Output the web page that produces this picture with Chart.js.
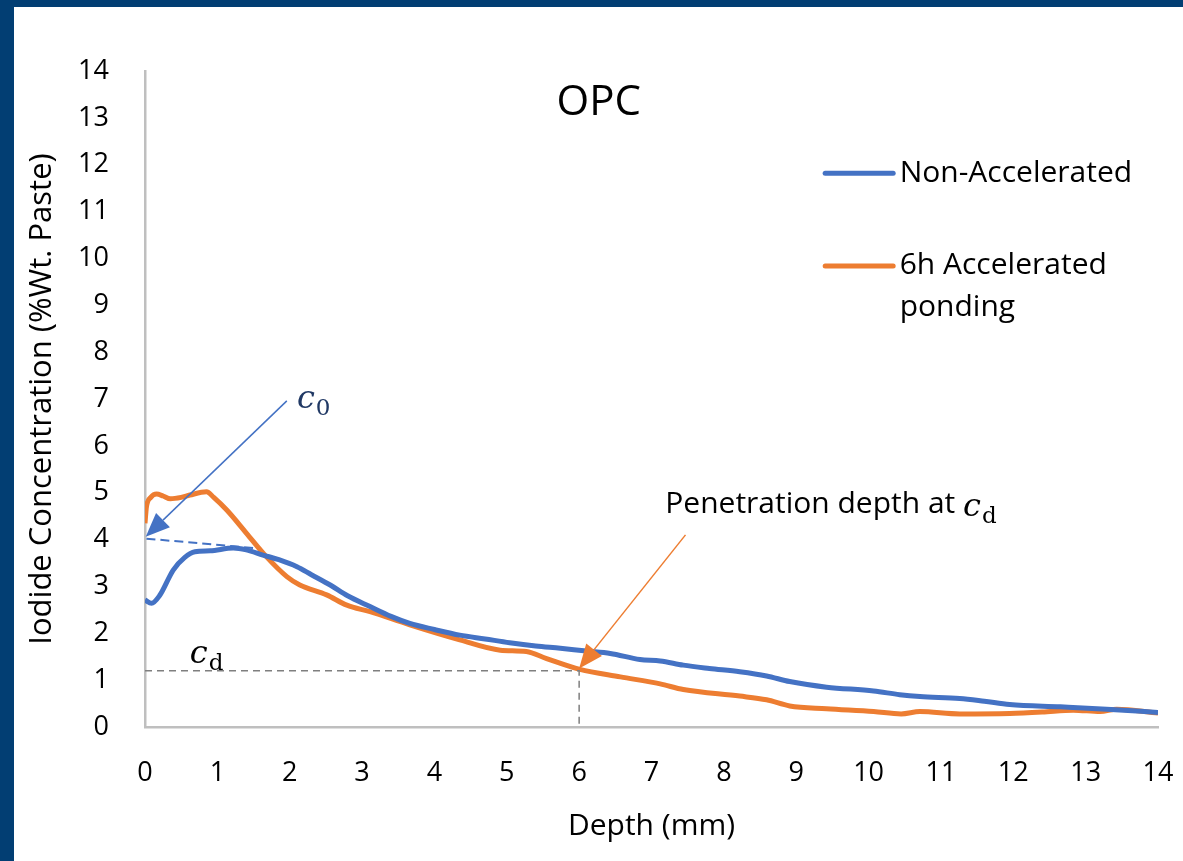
<!DOCTYPE html>
<html>
<head>
<meta charset="utf-8">
<title>OPC - Iodide Concentration</title>
<script src="https://cdn.jsdelivr.net/npm/chart.js@4"></script>
<style>
    html, body { margin: 0; padding: 0; }
    body { background: #023e73; width: 1183px; height: 861px; overflow: hidden; position: relative; }
    .chart-container { position: absolute; left: 14px; top: 7px; width: 1169px; height: 854px; background: #fff; }
</style>
</head>
<body>
<div class="chart-container">
    <canvas id="iodideChart"></canvas>
</div>
<script>
// values
const seriesLabels = ['Non-Accelerated', '6h Accelerated ponding'];

const depthNonAcc = [0, 0.09, 0.2, 0.39, 0.55, 0.69, 0.9, 1.22, 1.4, 1.63, 1.85, 2.1, 2.3, 2.56, 2.8, 3.11,
    3.4, 3.66, 4.0, 4.35, 4.7, 5.04, 5.4, 5.74, 6.1, 6.43, 6.84, 7.12, 7.44, 7.8, 8.22, 8.59, 8.91,
    9.42, 10.07, 10.43, 10.71, 11.26, 11.6, 11.95, 12.65, 13.29, 14];
const concNonAcc = [2.71, 2.64, 2.8, 3.35, 3.62, 3.74, 3.76, 3.82, 3.78, 3.67, 3.57, 3.42, 3.25, 3.03, 2.8, 2.57,
    2.36, 2.21, 2.08, 1.96, 1.88, 1.8, 1.73, 1.68, 1.62, 1.57, 1.44, 1.41, 1.32, 1.25, 1.18, 1.09, 0.97,
    0.85, 0.77, 0.69, 0.65, 0.61, 0.55, 0.48, 0.43, 0.38, 0.31];

const depthAcc = [0, 0.02, 0.08, 0.16, 0.25, 0.35, 0.5, 0.62, 0.85, 0.95, 1.13, 1.4, 1.68, 1.96, 2.14, 2.51,
    2.79, 3.11, 3.66, 4.35, 4.91, 5.27, 5.55, 6.01, 6.57, 7.12, 7.44, 8.22, 8.59, 8.91, 9.42, 10.07,
    10.45, 10.71, 11.26, 11.95, 12.4, 12.83, 13.2, 13.43, 14];
const concAcc = [4.35, 4.7, 4.9, 4.97, 4.93, 4.87, 4.9, 4.95, 5.02, 4.9, 4.63, 4.14, 3.63, 3.21, 3.03, 2.82,
    2.6, 2.46, 2.18, 1.86, 1.64, 1.61, 1.46, 1.23, 1.07, 0.92, 0.8, 0.66, 0.58, 0.45, 0.39, 0.33,
    0.28, 0.33, 0.28, 0.29, 0.32, 0.36, 0.33, 0.38, 0.3];

const axisMin = 0;
const axisMax = 14;

// annotation anchors (depth, concentration)
const c0Point = [0.01, 4.06];
const c0Line = [[0.02, 4.02], [1.5, 3.82]];
const cdPoint = [6.0, 1.2];

const BLUE = '#4472C4';
const ORANGE = '#ED7D31';
const FONT = '"Open Sans", sans-serif';

const toPoints = (xs, ys) => xs.map((v, i) => ({ x: v, y: ys[i] }));

function drawArrow(ctx, x1, y1, x2, y2, color) {
    const angle = Math.atan2(y2 - y1, x2 - x1);
    const headLen = 24;
    const headW = 10;
    const bx = x2 - Math.cos(angle) * headLen;
    const by = y2 - Math.sin(angle) * headLen;
    ctx.save();
    ctx.strokeStyle = color;
    ctx.fillStyle = color;
    ctx.lineWidth = 1.5;
    ctx.beginPath();
    ctx.moveTo(x1, y1);
    ctx.lineTo(bx, by);
    ctx.stroke();
    ctx.beginPath();
    ctx.moveTo(x2, y2);
    ctx.lineTo(bx + Math.sin(angle) * headW, by - Math.cos(angle) * headW);
    ctx.lineTo(bx - Math.sin(angle) * headW, by + Math.cos(angle) * headW);
    ctx.closePath();
    ctx.fill();
    ctx.restore();
}

// c + subscript, drawn in a serif italic like the equation text in the original
function drawSymbol(ctx, x, y, sub, size, color) {
    ctx.save();
    ctx.fillStyle = color;
    ctx.textBaseline = 'alphabetic';
    ctx.textAlign = 'left';
    ctx.font = `italic ${size}px "DejaVu Serif", serif`;
    ctx.fillText('c', x, y);
    const w = ctx.measureText('c').width;
    ctx.font = `${Math.round(size * 0.72)}px "DejaVu Serif", serif`;
    ctx.fillText(sub, x + w + 1, y + size * 0.22);
    ctx.restore();
}

const annotationPlugin = {
    id: 'annotations',
    afterDatasetsDraw(chart) {
        const { ctx, scales: { x, y } } = chart;
        const px = v => x.getPixelForValue(v);
        const py = v => y.getPixelForValue(v);

        // dashed extrapolation to c0
        ctx.save();
        ctx.strokeStyle = BLUE;
        ctx.lineWidth = 2;
        ctx.setLineDash([9, 5]);
        ctx.beginPath();
        ctx.moveTo(px(c0Line[0][0]), py(c0Line[0][1]));
        ctx.lineTo(px(c0Line[1][0]), py(c0Line[1][1]));
        ctx.stroke();

        // dashed guides for cd
        ctx.strokeStyle = '#7f7f7f';
        ctx.lineWidth = 1.5;
        ctx.setLineDash([7, 5]);
        ctx.beginPath();
        ctx.moveTo(px(axisMin), py(cdPoint[1]));
        ctx.lineTo(px(cdPoint[0]), py(cdPoint[1]));
        ctx.lineTo(px(cdPoint[0]), py(0));
        ctx.stroke();
        ctx.restore();

        drawArrow(ctx, px(1.96), py(6.96), px(c0Point[0]), py(c0Point[1]), BLUE);
        drawArrow(ctx, px(7.47), py(4.10), px(cdPoint[0]), py(cdPoint[1] + 0.05), ORANGE);
    },
    afterDraw(chart) {
        const { ctx, scales: { x, y } } = chart;
        const px = v => x.getPixelForValue(v);
        const py = v => y.getPixelForValue(v);

        ctx.save();
        // title inside plot
        ctx.fillStyle = '#000';
        ctx.textAlign = 'center';
        ctx.textBaseline = 'middle';
        ctx.font = `42px ${FONT}`;
        ctx.fillText('OPC', px(6.27), py(13.32));

        // legend
        ctx.lineCap = 'round';
        ctx.lineWidth = 5;
        ctx.strokeStyle = BLUE;
        ctx.beginPath();
        ctx.moveTo(px(9.4), py(11.82));
        ctx.lineTo(px(10.34), py(11.82));
        ctx.stroke();
        ctx.strokeStyle = ORANGE;
        ctx.beginPath();
        ctx.moveTo(px(9.4), py(9.84));
        ctx.lineTo(px(10.34), py(9.84));
        ctx.stroke();

        ctx.textAlign = 'left';
        ctx.font = `30px ${FONT}`;
        ctx.fillText(seriesLabels[0], px(10.43), py(11.82));
        ctx.fillText('6h Accelerated', px(10.43), py(9.84));
        ctx.fillText('ponding', px(10.43), py(8.96));

        // penetration depth label
        ctx.font = `30px ${FONT}`;
        const txt = 'Penetration depth at ';
        const tx = px(7.19);
        const ty = py(4.74);
        ctx.fillText(txt, tx, ty);
        const tw = ctx.measureText(txt).width;
        ctx.restore();

        drawSymbol(ctx, tx + tw, ty + 11, 'd', 32, '#000');
        drawSymbol(ctx, px(2.1), py(7.04) + 11, '0', 32, '#203864');
        drawSymbol(ctx, px(0.62), py(1.6) + 11, 'd', 32, '#000');
    }
};

document.addEventListener('DOMContentLoaded', () => {
    const ctx = document.getElementById('iodideChart').getContext('2d');

    new Chart(ctx, {
        type: 'scatter',
        data: {
            datasets: [
                {
                    label: seriesLabels[0],
                    data: toPoints(depthNonAcc, concNonAcc),
                    borderColor: BLUE,
                    backgroundColor: BLUE,
                    borderWidth: 5,
                    showLine: true,
                    pointRadius: 0,
                    cubicInterpolationMode: 'monotone'
                },
                {
                    label: seriesLabels[1],
                    data: toPoints(depthAcc, concAcc),
                    borderColor: ORANGE,
                    backgroundColor: ORANGE,
                    borderWidth: 5,
                    showLine: true,
                    pointRadius: 0,
                    cubicInterpolationMode: 'monotone'
                }
            ]
        },
        options: {
            responsive: true,
            maintainAspectRatio: false,
            animation: false,
            layout: {
                padding: { top: 64, right: 25, left: 0, bottom: 0 }
            },
            scales: {
                x: {
                    type: 'linear',
                    min: axisMin,
                    max: axisMax,
                    border: { color: '#bfbfbf', width: 2.5 },
                    grid: { display: false, drawTicks: false },
                    ticks: {
                        stepSize: 1,
                        padding: 30,
                        color: '#000',
                        font: { family: FONT, size: 27 }
                    },
                    title: {
                        display: true,
                        text: 'Depth (mm)',
                        color: '#000',
                        font: { family: FONT, size: 30 },
                        padding: { top: 0, bottom: 17 }
                    },
                    afterFit: scale => {
                        scale.height = 134;
                        scale.paddingLeft = 0;
                        scale.paddingRight = 0;
                    }
                },
                y: {
                    min: axisMin,
                    max: axisMax,
                    border: { color: '#bfbfbf', width: 2.5 },
                    grid: { display: false, drawTicks: false },
                    ticks: {
                        stepSize: 1,
                        padding: 36,
                        color: '#000',
                        font: { family: FONT, size: 27 }
                    },
                    title: {
                        display: true,
                        text: 'Iodide Concentration (%Wt. Paste)',
                        color: '#000',
                        font: { family: FONT, size: 31 },
                        padding: { top: 10, bottom: 0 }
                    },
                    afterFit: scale => {
                        scale.width = 131;
                        scale.paddingTop = 0;
                        scale.paddingBottom = 0;
                    }
                }
            },
            plugins: {
                legend: { display: false },
                tooltip: { enabled: false }
            }
        },
        plugins: [annotationPlugin]
    });
});
</script>
</body>
</html>
